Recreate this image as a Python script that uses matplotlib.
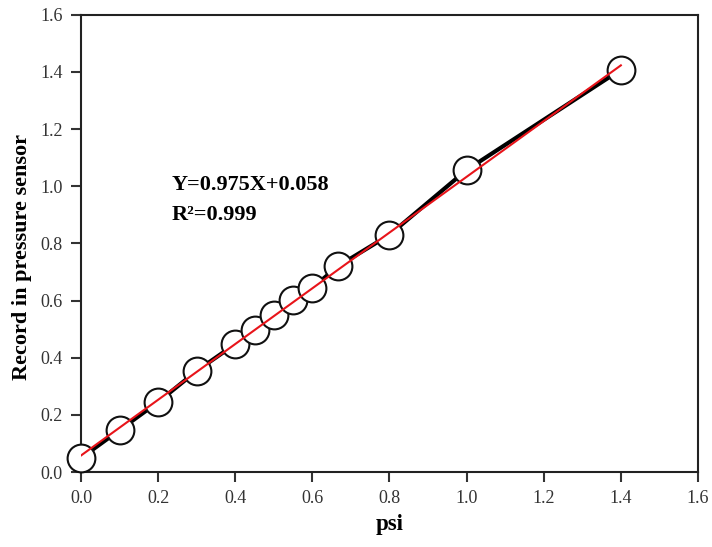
#!/usr/bin/env python3
"""Pressure sensor record vs. applied psi, with linear fit."""

import numpy as np
import matplotlib
matplotlib.use("Agg")
import matplotlib.pyplot as plt

psi = [0.0, 0.1, 0.2, 0.3, 0.4, 0.45, 0.5, 0.55, 0.6, 0.667, 0.8, 1.0, 1.4]
record = [0.049, 0.147, 0.245, 0.354, 0.448, 0.497, 0.55, 0.602, 0.644,
          0.721, 0.83, 1.057, 1.408]

# linear fit reported on the chart
slope = 0.975
intercept = 0.058
fit_x = [0.0, 1.4]

x_ticks = [0.0, 0.2, 0.4, 0.6, 0.8, 1.0, 1.2, 1.4, 1.6]
y_ticks = [0.0, 0.2, 0.4, 0.6, 0.8, 1.0, 1.2, 1.4, 1.6]


def plot_calibration():
    plt.rcParams['font.family'] = ['Liberation Serif', 'DejaVu Serif']
    fig = plt.figure(figsize=(7.12, 5.47), dpi=100)
    ax = fig.add_axes([0.1138, 0.137, 0.8665, 0.836])

    # thick black connecting line, hidden inside the markers
    ax.plot(psi, record, color='black', linewidth=3, zorder=2)
    ax.plot(psi, record, linestyle='none', marker='o', markersize=20,
            markerfacecolor='white', markeredgecolor='#111111',
            markeredgewidth=1.5, zorder=3, clip_on=False)

    # red fit line on top
    fx = np.array(fit_x)
    ax.plot(fx, slope * fx + intercept, color='#e8141a', linewidth=1.5, zorder=4)

    ax.text(0.236, 1.005, 'Y=0.975X+0.058', fontsize=16, fontweight='bold',
            va='center')
    ax.text(0.236, 0.90, 'R²=0.999', fontsize=16, fontweight='bold',
            va='center')

    ax.set_xlim(0, 1.6)
    ax.set_ylim(0, 1.6)
    ax.set_xticks(x_ticks)
    ax.set_yticks(y_ticks)
    ax.set_xticklabels([f'{t:.1f}' for t in x_ticks])
    ax.set_yticklabels([f'{t:.1f}' for t in y_ticks])
    ax.tick_params(direction='out', length=7, width=1.5, labelsize=13,
                   colors='#333333', labelcolor='#333333', pad=6)
    for s in ax.spines.values():
        s.set_linewidth(1.5)
        s.set_color('#222222')

    ax.set_xlabel('psi', fontsize=16.5, fontweight='bold', labelpad=5)
    ax.set_ylabel('Record in pressure sensor', fontsize=16, fontweight='bold')
    ax.yaxis.set_label_coords(-0.08, 0.47)

    fig.savefig('out.png', dpi=100)


if __name__ == "__main__":
    plot_calibration()
